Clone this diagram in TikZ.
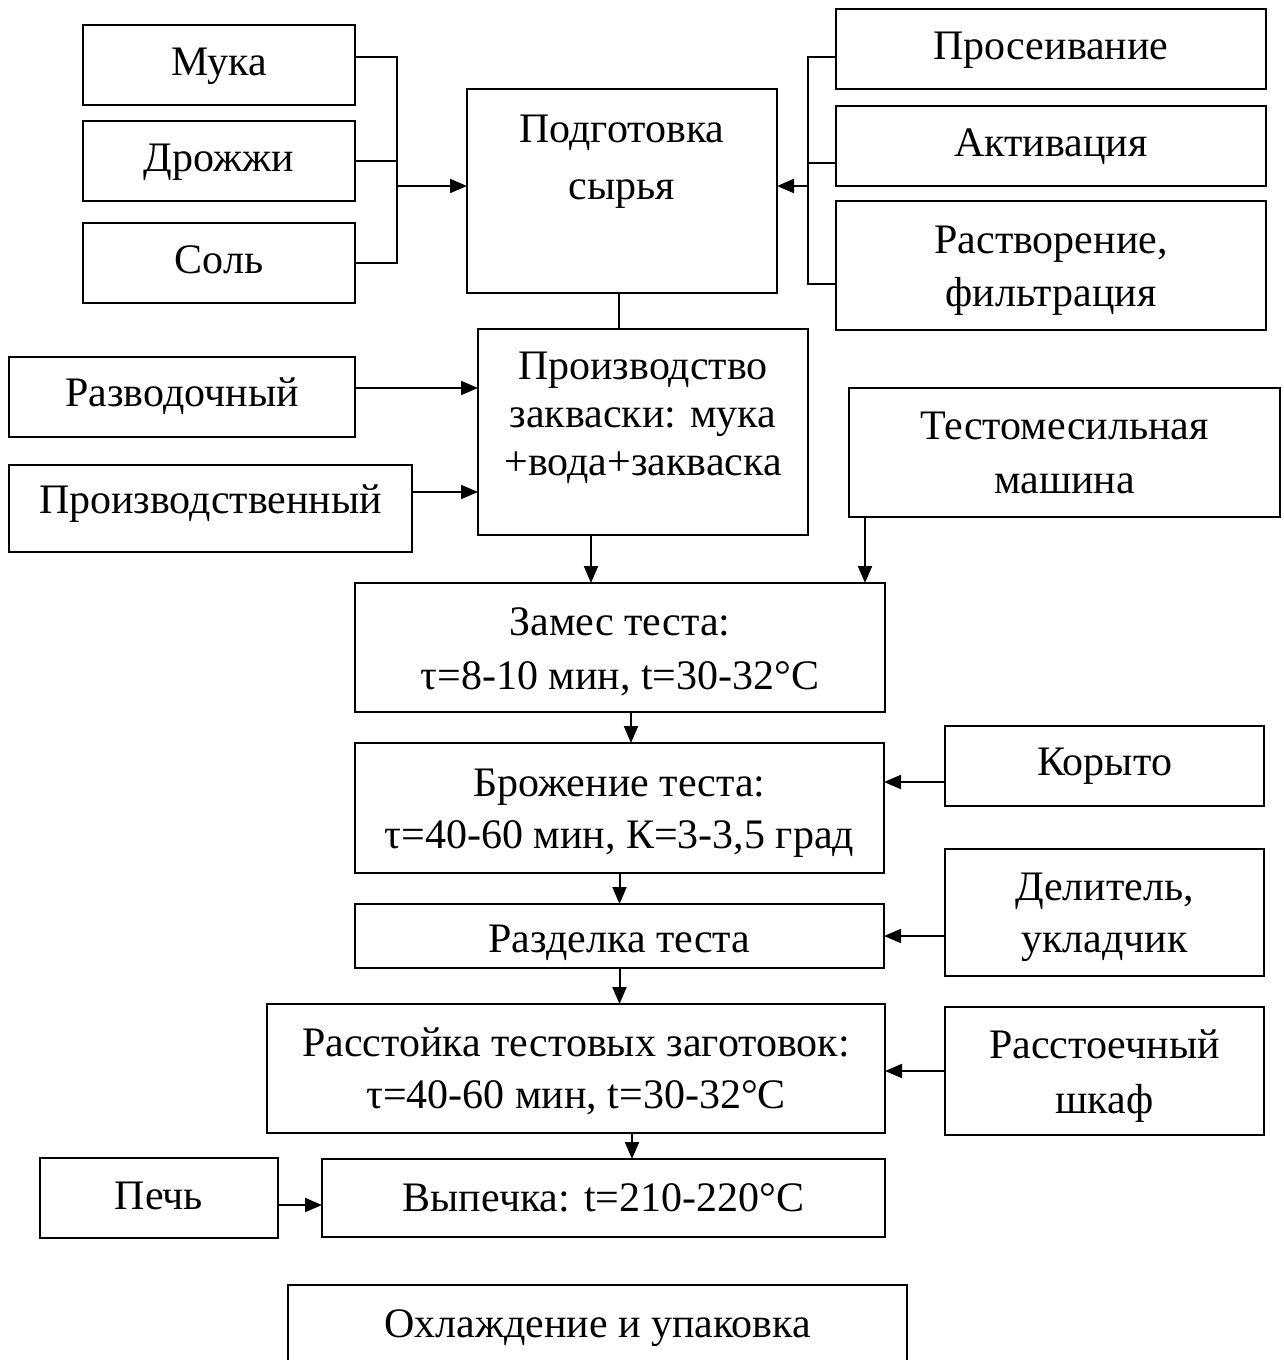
\documentclass[tikz,border=0pt]{standalone}
\usepackage{fontspec}
\setmainfont{Liberation Serif}
\usetikzlibrary{arrows.meta,calc}
\begin{document}
\begin{tikzpicture}[x=1pt,y=-1pt,
 box/.style={draw, line width=2pt, inner sep=0pt, outer sep=0pt},
 txt/.style={font=\fontsize{42}{53}\selectfont, align=center, inner sep=0pt, yshift=-3pt},
 conn/.style={line width=2pt},
 arr/.style={line width=2pt, -{Triangle[length=17pt,width=14pt]}}]
\clip (0,0) rectangle (1283,1360);
\fill[white] (0,0) rectangle (1283,1360);
% boxes
\node[box, minimum width=272, minimum height=80] (muka) at (219,65) {};
\node[box, minimum width=272, minimum height=80] (drozh) at (219,161) {};
\node[box, minimum width=272, minimum height=80] (sol) at (219,263) {};
\node[box, minimum width=310, minimum height=204] (podg) at (622,191) {};
\node[box, minimum width=430, minimum height=80] (pros) at (1051,49) {};
\node[box, minimum width=430, minimum height=80] (akt) at (1051,146) {};
\node[box, minimum width=430, minimum height=129] (rastv) at (1051,265.5) {};
\node[box, minimum width=346, minimum height=80] (razv) at (182,397) {};
\node[box, minimum width=403, minimum height=87] (proizv) at (210.5,508.5) {};
\node[box, minimum width=330, minimum height=206] (prod) at (643,432) {};
\node[box, minimum width=431, minimum height=129] (testo) at (1064.5,452.5) {};
\node[box, minimum width=530, minimum height=129] (zames) at (620,647.5) {};
\node[box, minimum width=529, minimum height=130] (brozh) at (619.5,808) {};
\node[box, minimum width=319, minimum height=80] (koryto) at (1104.5,766) {};
\node[box, minimum width=529, minimum height=64] (razd) at (619.5,936) {};
\node[box, minimum width=319, minimum height=127] (delit) at (1104.5,912.5) {};
\node[box, minimum width=618, minimum height=129] (rasst) at (576,1068.5) {};
\node[box, minimum width=319, minimum height=128] (shkaf) at (1104.5,1071) {};
\node[box, minimum width=563, minimum height=78] (vyp) at (603.5,1198) {};
\node[box, minimum width=238, minimum height=80] (pech) at (159,1198) {};
\node[box, minimum width=619, minimum height=150] (ohl) at (597.5,1360) {};
% texts
\node[txt] (muka-t) at (219,62) {\strut Мука};
\node[txt] (drozh-t) at (219,158) {\strut Дрожжи};
\node[txt] (sol-t) at (219,260) {\strut Соль};
\node[txt, font=\fontsize{42}{57}\selectfont] (podg-t) at (622,156.5) {\strut Подготовка\\\strut сырья};
\node[txt] (pros-t) at (1051,46) {\strut Просеивание};
\node[txt] (akt-t) at (1051,143) {\strut Активация};
\node[txt] (rastv-t) at (1051,266.5) {\strut Растворение,\\\strut фильтрация};
\node[txt] (razv-t) at (182,393) {\strut Разводочный};
\node[txt] (proizv-t) at (210.5,500) {\strut Производственный};
\node[txt, font=\fontsize{42}{48}\selectfont] (prod-t) at (643,415) {\strut Производство\\\strut закваски: мука\\\strut +вода+закваска};
\node[txt, font=\fontsize{42}{54}\selectfont] (testo-t) at (1064.5,453) {\strut Тестомесильная\\\strut машина};
\node[txt, font=\fontsize{42}{54}\selectfont] (zames-t) at (620,649) {\strut Замес теста:\\\strut τ=8-10 мин, t=30-32°C};
\node[txt, font=\fontsize{42}{52}\selectfont] (brozh-t) at (619.5,809) {\strut Брожение теста:\\\strut τ=40-60 мин, К=3-3,5 град};
\node[txt] (koryto-t) at (1104.5,762) {\strut Корыто};
\node[txt] (razd-t) at (619.5,939) {\strut Разделка теста};
\node[txt, font=\fontsize{42}{52}\selectfont] (delit-t) at (1104.5,913) {\strut Делитель,\\\strut укладчик};
\node[txt, font=\fontsize{42}{52}\selectfont] (rasst-t) at (576,1069) {\strut Расстойка тестовых заготовок:\\\strut τ=40-60 мин, t=30-32°C};
\node[txt, font=\fontsize{42}{55}\selectfont] (shkaf-t) at (1104.5,1072) {\strut Расстоечный\\\strut шкаф};
\node[txt] (vyp-t) at (603.5,1198) {\strut Выпечка: t=210-220°C};
\node[txt] (pech-t) at (159,1196) {\strut Печь};
\node[txt] (ohl-t) at (597.5,1324) {\strut Охлаждение и упаковка};
% connectors
\coordinate (jl) at (397,186);
\draw[conn] ($(muka.east)+(0,-8)$) -| (jl);
\draw[conn] (sol.east) -| (jl);
\draw[conn] (drozh.east) -- (drozh.east -| jl);
\draw[arr] (jl) -- (jl -| podg.west);
\coordinate (jr) at (808,186);
\draw[conn] ($(pros.west)+(0,8)$) -| (jr);
\draw[conn] ($(rastv.west)+(0,18.5)$) -| (jr);
\path ($(akt.west)+(0,17)$) coordinate (akl);
\draw[conn] (akl) -- (akl -| jr);
\draw[arr] (jr) -- (jr -| podg.east);
\path ($(podg.south)+(-3,0)$) coordinate (pgs);
\draw[conn] (pgs) -- (pgs |- prod.north);
\path ($(razv.east)+(0,-9)$) coordinate (rv);
\draw[arr] (rv) -- (rv -| prod.west);
\path ($(proizv.east)+(0,-16.5)$) coordinate (pv);
\draw[arr] (pv) -- (pv -| prod.west);
\path ($(prod.south)+(-52,0)$) coordinate (pd);
\draw[arr] (pd) -- (pd |- zames.north);
\path ($(testo.south west)+(16,0)$) coordinate (td);
\draw[arr] (td) -- (td |- zames.north);
\path ($(zames.south)+(11,0)$) coordinate (zd);
\draw[arr] (zd) -- (zd |- brozh.north);
\draw[arr] (brozh.south) -- (brozh.south |- razd.north);
\draw[arr] (razd.south) -- (razd.south |- rasst.north);
\path ($(rasst.south)+(56,0)$) coordinate (rd);
\draw[arr] (rd) -- (rd |- vyp.north);
\path ($(koryto.west)+(0,16)$) coordinate (kw);
\draw[arr] (kw) -- (kw -| brozh.east);
\draw[arr] (razd.east -| delit.west) -- (razd.east);
\draw[arr] (shkaf.west) -- (shkaf.west -| rasst.east);
\path ($(pech.east)+(0,7)$) coordinate (pe);
\draw[arr] (pe) -- (pe -| vyp.west);
\end{tikzpicture}
\end{document}
